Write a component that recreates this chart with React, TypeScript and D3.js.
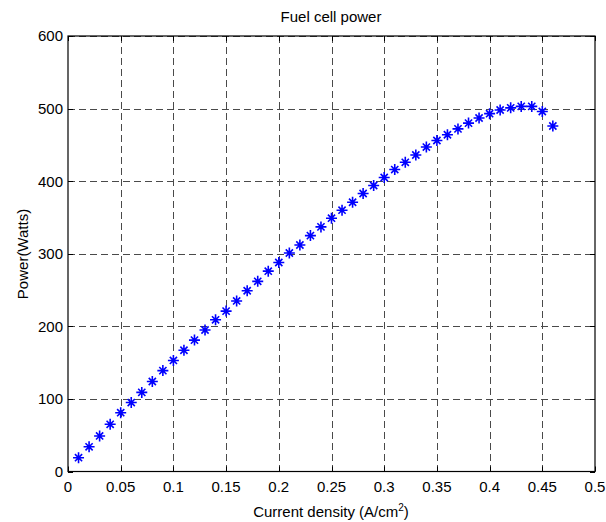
import React, { useEffect, useRef } from 'react';
import * as d3 from 'd3';

// current density (A/cm2)
const currentDensity = [
  0.01, 0.02, 0.03, 0.04, 0.05, 0.06, 0.07, 0.08, 0.09, 0.10,
  0.11, 0.12, 0.13, 0.14, 0.15, 0.16, 0.17, 0.18, 0.19, 0.20,
  0.21, 0.22, 0.23, 0.24, 0.25, 0.26, 0.27, 0.28, 0.29, 0.30,
  0.31, 0.32, 0.33, 0.34, 0.35, 0.36, 0.37, 0.38, 0.39, 0.40,
  0.41, 0.42, 0.43, 0.44, 0.45, 0.46,
];

// power (Watts)
const power = [
  19, 34, 49, 65, 81, 95, 109, 124, 139, 153,
  167, 181, 195, 209, 221, 235, 249, 262, 276, 288,
  301, 312, 325, 337, 349, 360, 371, 383, 394, 405,
  416, 426, 436, 447, 456, 464, 472, 480, 487, 493,
  498, 501, 503, 503, 496, 476,
];

const xTicks = [0, 0.05, 0.1, 0.15, 0.2, 0.25, 0.3, 0.35, 0.4, 0.45, 0.5];
const yTicks = [0, 100, 200, 300, 400, 500, 600];

const FuelCellChart = () => {
  const ref = useRef<SVGSVGElement>(null);

  const graph = () => {
    const svg = d3.select(ref.current);
    svg.selectAll('*').remove();

    const left = 68;
    const right = 595;
    const top = 36;
    const bottom = 471.5;
    const font = 'Liberation Sans, Arial, Helvetica, sans-serif';

    const x = d3.scaleLinear().domain([0, 0.5]).range([left, right]);
    const y = d3.scaleLinear().domain([0, 600]).range([bottom, top]);

    svg.append('rect')
      .attr('width', 606).attr('height', 522).attr('fill', '#fff');

    // grid
    const grid = svg.append('g')
      .attr('stroke', '#4a4a4a')
      .attr('stroke-width', 1)
      .attr('stroke-dasharray', '7,4');

    grid.selectAll('line.v')
      .data(xTicks.slice(1, -1))
      .enter().append('line')
      .attr('x1', d => Math.round(x(d)) + 0.5)
      .attr('x2', d => Math.round(x(d)) + 0.5)
      .attr('y1', top).attr('y2', bottom);

    grid.selectAll('line.h')
      .data(yTicks.slice(1))
      .enter().append('line')
      .attr('y1', d => Math.round(y(d)) + 0.5)
      .attr('y2', d => Math.round(y(d)) + 0.5)
      .attr('x1', left).attr('x2', right);

    // ticks (inside, all four sides)
    const ticks = svg.append('g').attr('stroke', '#000').attr('stroke-width', 1);
    xTicks.forEach(t => {
      const px = Math.round(x(t)) + 0.5;
      ticks.append('line').attr('x1', px).attr('x2', px).attr('y1', bottom).attr('y2', bottom - 5);
      ticks.append('line').attr('x1', px).attr('x2', px).attr('y1', top).attr('y2', top + 5);
    });
    yTicks.forEach(t => {
      const py = Math.round(y(t)) + 0.5;
      ticks.append('line').attr('y1', py).attr('y2', py).attr('x1', left).attr('x2', left + 5);
      ticks.append('line').attr('y1', py).attr('y2', py).attr('x1', right).attr('x2', right - 5);
    });

    // frame
    svg.append('rect')
      .attr('x', left).attr('y', top)
      .attr('width', right - left).attr('height', bottom - top)
      .attr('fill', 'none').attr('stroke', '#000').attr('stroke-width', 1.2);

    // tick labels
    svg.append('g')
      .selectAll('text')
      .data(xTicks)
      .enter().append('text')
      .attr('x', d => x(d))
      .attr('y', 492)
      .attr('text-anchor', 'middle')
      .style('font-family', font)
      .style('font-size', '15px')
      .text(d => String(d));

    svg.append('g')
      .selectAll('text')
      .data(yTicks)
      .enter().append('text')
      .attr('x', 63)
      .attr('y', d => y(d))
      .attr('dy', '0.36em')
      .attr('text-anchor', 'end')
      .style('font-family', font)
      .style('font-size', '15px')
      .text(d => String(d));

    // markers '*'
    const star = 'M0,-5.5V5.5M-5.5,0H5.5M-3.6,-3.6L3.6,3.6M-3.6,3.6L3.6,-3.6';
    svg.append('g')
      .selectAll('path')
      .data(currentDensity)
      .enter().append('path')
      .attr('transform', (d, i) => `translate(${x(d)},${y(power[i])})`)
      .attr('d', star)
      .attr('fill', 'none')
      .attr('stroke', '#0000ff')
      .attr('stroke-width', 1.6);

    // title and axis labels
    svg.append('text')
      .attr('x', 331).attr('y', 22)
      .attr('text-anchor', 'middle')
      .style('font-family', font).style('font-size', '15px')
      .text('Fuel cell power');

    const xl = svg.append('text')
      .attr('x', 331).attr('y', 517)
      .attr('text-anchor', 'middle')
      .style('font-family', font).style('font-size', '15px');
    xl.append('tspan').text('Current density (A/cm');
    xl.append('tspan').attr('dy', -6).style('font-size', '10px').text('2');
    xl.append('tspan').attr('dy', 6).text(')');

    svg.append('text')
      .attr('transform', 'translate(28,254) rotate(-90)')
      .attr('text-anchor', 'middle')
      .style('font-family', font).style('font-size', '15px')
      .text('Power(Watts)');
  };

  useEffect(() => graph());

  return (
    <svg ref={ref} width="606" height="522" style={{ position: 'absolute', left: 0, top: 0 }}></svg>
  );
};

export default function App() {
  return <FuelCellChart />;
}
